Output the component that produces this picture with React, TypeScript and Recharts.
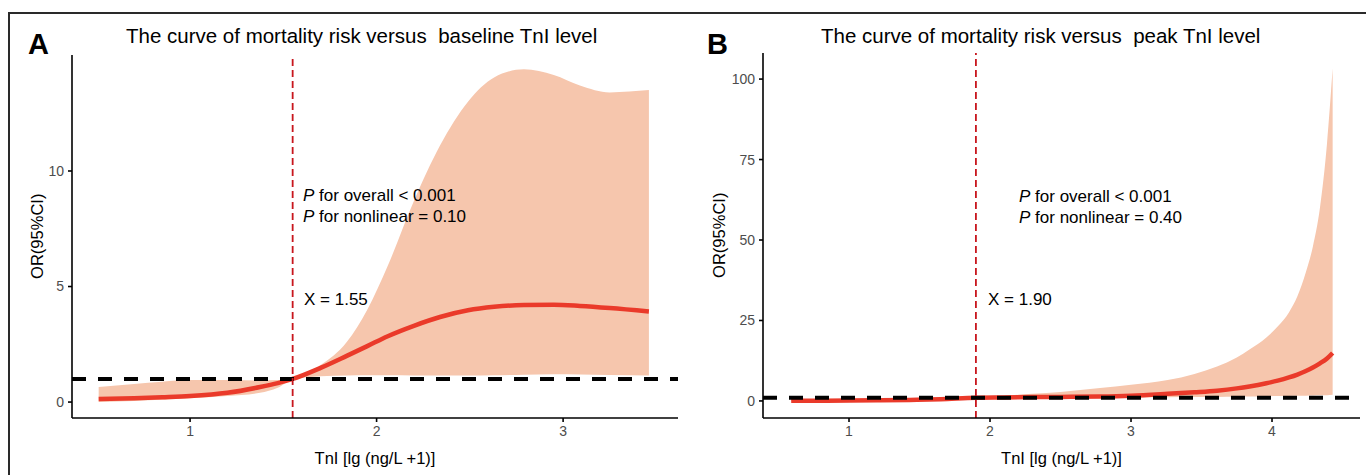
import React from 'react';
import { ComposedChart, Area, Line, XAxis, YAxis, ReferenceLine } from 'recharts';

// Panel A: baseline TnI
const xA = [0.51, 0.7, 0.85, 1.0, 1.2, 1.375, 1.47, 1.55, 1.7, 1.84, 1.95, 2.06, 2.2, 2.34, 2.49, 2.63, 2.79, 2.95, 3.09, 3.25, 3.46];
const estA = [0.13, 0.17, 0.21, 0.26, 0.4, 0.65, 0.82, 1.0, 1.48, 2.0, 2.42, 2.85, 3.3, 3.68, 3.97, 4.12, 4.2, 4.21, 4.16, 4.07, 3.92];
const lowA = [0.0, 0.05, 0.1, 0.17, 0.26, 0.4, 0.62, 0.98, 1.12, 1.15, 1.16, 1.16, 1.15, 1.15, 1.15, 1.16, 1.18, 1.2, 1.19, 1.17, 1.15];
const highA = [0.65, 0.78, 0.88, 0.95, 0.96, 0.93, 0.95, 1.02, 1.6, 2.6, 4.0, 5.9, 8.7, 11.1, 13.0, 14.05, 14.4, 14.15, 13.7, 13.4, 13.5];

// Panel B: peak TnI
const xB = [0.59, 0.8, 1.0, 1.2, 1.43, 1.65, 1.9, 2.1, 2.3, 2.5, 2.78, 3.0, 3.26, 3.45, 3.61, 3.75, 3.84, 3.96, 4.04, 4.12, 4.18, 4.24, 4.29, 4.34, 4.39, 4.43];
const estB = [0.05, 0.08, 0.12, 0.2, 0.33, 0.55, 1.0, 1.1, 1.2, 1.25, 1.35, 1.6, 2.2, 2.7, 3.2, 3.9, 4.5, 5.5, 6.3, 7.3, 8.2, 9.3, 10.4, 11.7, 13.2, 14.9];
const lowB = [0.0, 0.0, 0.02, 0.05, 0.12, 0.35, 0.95, 1.0, 1.02, 1.04, 1.06, 1.1, 1.15, 1.2, 1.25, 1.3, 1.35, 1.45, 1.5, 1.55, 1.6, 1.65, 1.7, 1.75, 1.8, 1.9];
const highB = [0.5, 0.45, 0.45, 0.5, 0.6, 0.75, 1.05, 1.6, 2.2, 2.8, 4.0, 5.0, 6.5, 8.4, 10.7, 13.5, 16.0, 19.7, 23.1, 27.5, 32.5, 40, 48, 60, 80, 103.4];

const ticksXA = [1, 2, 3];
const ticksYA = [0, 5, 10];
const ticksXB = [1, 2, 3, 4];
const ticksYB = [0, 25, 50, 75, 100];

const cutA = 1.55;
const cutB = 1.9;

const dataA = xA.map((x, i) => ({ x, est: estA[i], ci: [lowA[i], highA[i]] }));
const dataB = xB.map((x, i) => ({ x, est: estB[i], ci: [lowB[i], highB[i]] }));

const FONT = '"Liberation Sans", Arial, sans-serif';
const RIBBON = '#F6C6AD';
const CURVE = '#EA3A2A';
const VLINE = '#C8161D';

const tickStyle = { fill: '#4D4D4D', fontSize: 14, fontFamily: FONT };
const axisStyle = { stroke: '#000', strokeWidth: 1.6 };

const abs = (left: number, top: number, extra: React.CSSProperties = {}): React.CSSProperties => ({
  position: 'absolute',
  left,
  top,
  fontFamily: FONT,
  lineHeight: 1,
  whiteSpace: 'pre',
  color: '#000',
  ...extra,
});

interface PanelProps {
  data: any[];
  xDomain: [number, number];
  yDomain: [number, number];
  xTicks: number[];
  yTicks: number[];
  cut: number;
  margin: { top: number; right: number; bottom: number; left: number };
  yWidth: number;
}

function Panel({ data, xDomain, yDomain, xTicks, yTicks, cut, margin, yWidth }: PanelProps) {
  return (
    <ComposedChart width={683} height={475} data={data} margin={margin}>
      <XAxis
        dataKey="x"
        type="number"
        domain={xDomain}
        ticks={xTicks}
        allowDataOverflow
        height={30}
        tick={tickStyle}
        tickSize={4}
        tickMargin={4}
        axisLine={axisStyle}
        tickLine={axisStyle}
      />
      <YAxis
        type="number"
        domain={yDomain}
        ticks={yTicks}
        allowDataOverflow
        width={yWidth}
        tick={tickStyle}
        tickSize={4}
        tickMargin={4}
        axisLine={axisStyle}
        tickLine={axisStyle}
      />
      <Area
        type="monotone"
        dataKey="ci"
        fill={RIBBON}
        fillOpacity={1}
        stroke="none"
        isAnimationActive={false}
      />
      <Line
        type="monotone"
        dataKey="est"
        stroke={CURVE}
        strokeWidth={4.5}
        dot={false}
        isAnimationActive={false}
      />
      <ReferenceLine y={1} stroke="#000" strokeWidth={4} strokeDasharray="14 12" />
      <ReferenceLine x={cut} stroke={VLINE} strokeWidth={1.8} strokeDasharray="7 4" />
    </ComposedChart>
  );
}

function PText({ left, top, rest }: { left: number; top: number; rest: string }) {
  return (
    <div style={abs(left, top, { fontSize: 17 })}>
      <span style={{ fontStyle: 'italic' }}>P</span>
      {rest}
    </div>
  );
}

export default function App() {
  return (
    <div style={{ position: 'absolute', left: 0, top: 0, width: 1366, height: 475, background: '#fff', overflow: 'hidden' }}>
      {/* outer frame */}
      <div style={{ position: 'absolute', left: 8, top: 12, width: 1400, height: 500, borderTop: '2.5px solid #2a2a2a', borderLeft: '2.5px solid #2a2a2a' }} />

      {/* Panel A */}
      <div style={{ position: 'absolute', left: 0, top: 0 }}>
        <Panel
          data={dataA}
          xDomain={[0.367, 3.616]}
          yDomain={[-0.69, 15.02]}
          xTicks={ticksXA}
          yTicks={ticksYA}
          cut={cutA}
          margin={{ top: 55, right: 5, bottom: 27, left: 32 }}
          yWidth={40}
        />
      </div>

      {/* Panel B */}
      <div style={{ position: 'absolute', left: 683, top: 0 }}>
        <Panel
          data={dataB}
          xDomain={[0.39, 4.624]}
          yDomain={[-5.3, 108.1]}
          xTicks={ticksXB}
          yTicks={ticksYB}
          cut={cutB}
          margin={{ top: 53, right: 6, bottom: 27, left: 35 }}
          yWidth={45}
        />
      </div>

      {/* panel letters */}
      <div style={abs(28, 30, { fontSize: 29, fontWeight: 'bold' })}>A</div>
      <div style={abs(707, 30, { fontSize: 29, fontWeight: 'bold' })}>B</div>

      {/* titles */}
      <div style={abs(126, 25.6, { fontSize: 20.5 })}>The curve of mortality risk versus  baseline TnI level</div>
      <div style={abs(821, 25.6, { fontSize: 20.5 })}>The curve of mortality risk versus  peak TnI level</div>

      {/* annotations */}
      <PText left={303} top={187} rest=" for overall < 0.001" />
      <PText left={303} top={207.5} rest=" for nonlinear = 0.10" />
      <div style={abs(304, 290.5, { fontSize: 17 })}>X = 1.55</div>

      <PText left={1019} top={187.5} rest=" for overall < 0.001" />
      <PText left={1019} top={208.5} rest=" for nonlinear = 0.40" />
      <div style={abs(988, 290.5, { fontSize: 17 })}>X = 1.90</div>

      {/* x axis titles */}
      <div style={abs(72, 450, { fontSize: 16.5, width: 606, textAlign: 'center' })}>TnI [lg (ng/L +1)]</div>
      <div style={abs(763, 450, { fontSize: 16.5, width: 597, textAlign: 'center' })}>TnI [lg (ng/L +1)]</div>

      {/* y axis titles */}
      <div style={abs(37 - 60, 236.5 - 8.25, { fontSize: 16.5, width: 120, textAlign: 'center', transform: 'rotate(-90deg)' })}>OR(95%CI)</div>
      <div style={abs(719 - 60, 235.5 - 8.25, { fontSize: 16.5, width: 120, textAlign: 'center', transform: 'rotate(-90deg)' })}>OR(95%CI)</div>
    </div>
  );
}
